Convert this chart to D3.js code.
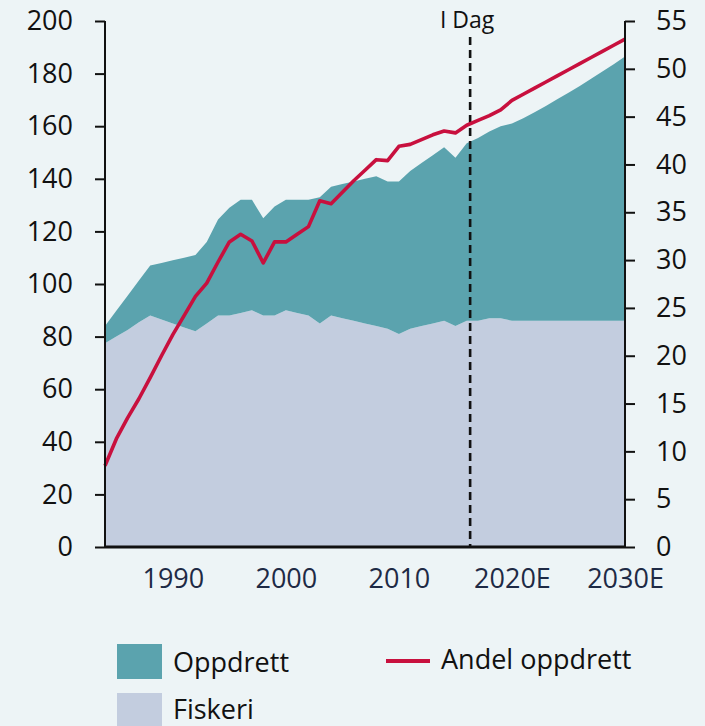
<!DOCTYPE html>
<html>
<head>
<meta charset="utf-8">
<script src="https://cdn.jsdelivr.net/npm/d3@7"></script>
<style>
  html, body { margin: 0; padding: 0; background: #edf4f6; }
  svg { display: block; font-family: "Open Sans", sans-serif; }
</style>
</head>
<body>
<svg id="chart" width="705" height="726"></svg>
<script>
// ---- data ----
const years = d3.range(1984, 2031);
const fiskeri = [77.5, 80, 82.5, 85.5, 88, 86.5, 85, 83.5, 82, 85,
  88, 88, 89, 90, 88, 88, 90, 89, 88, 85,
  88, 87, 86, 85, 84, 83, 81, 83, 84, 85,
  86, 84, 86, 86, 87, 87, 86, 86, 86, 86,
  86, 86, 86, 86, 86, 86, 86];
const oppdrett = [6.5, 9.8, 13, 15.8, 19, 21.5, 24, 26.5, 29, 31,
  36.5, 41, 43, 42, 37, 41.5, 42, 43, 44, 48,
  49, 51, 53, 55, 57, 56, 58, 60, 62, 64,
  66, 64, 67.5, 69.5, 71, 73, 75, 77, 79.3, 81.7,
  84.2, 86.7, 89.3, 92, 94.8, 97.6, 100.5];
const andelOppdrett = [8.5, 11.3, 13.5, 15.5, 17.7, 20, 22.2, 24.2, 26.2, 27.6,
  29.8, 31.9, 32.7, 32, 29.7, 31.9, 31.9, 32.7, 33.5, 36.2,
  35.9, 37.1, 38.3, 39.4, 40.5, 40.4, 41.9, 42.1, 42.6, 43.1,
  43.5, 43.3, 44.1, 44.6, 45.1, 45.7, 46.7, 47.34, 47.98, 48.62,
  49.26, 49.9, 50.54, 51.18, 51.82, 52.46, 53.1];
const xTickYears = [1990, 2000, 2010, 2020, 2030];
const xTickLabels = ["1990", "2000", "2010", "2020E", "2030E"];
const leftTicks = [0, 20, 40, 60, 80, 100, 120, 140, 160, 180, 200];
const rightTicks = [0, 5, 10, 15, 20, 25, 30, 35, 40, 45, 50, 55];
const todayYear = 2016.3;
const todayLabel = "I Dag";
const seriesNames = ["Oppdrett", "Fiskeri", "Andel oppdrett"];

// ---- styles ----
const cTeal = "#5ba3ae", cLight = "#c3cddf", cRed = "#c8103e";

const svg = d3.select("#chart");
const M = { left: 105, right: 625, top: 21, bottom: 547 };

const x = d3.scaleLinear().domain([1984, 2030]).range([M.left, M.right]);
const yL = d3.scaleLinear().domain([0, 200]).range([M.bottom, M.top]);
const yR = d3.scaleLinear().domain([0, 55]).range([M.bottom, M.top]);

const rows = years.map((yr, i) => ({ year: yr, Fiskeri: fiskeri[i], Oppdrett: oppdrett[i], andel: andelOppdrett[i] }));
const stack = d3.stack().keys(["Fiskeri", "Oppdrett"])(rows);
const area = d3.area().x(d => x(d.data.year)).y0(d => yL(d[0])).y1(d => yL(d[1]));
const colorOf = { Fiskeri: cLight, Oppdrett: cTeal };

svg.append("g").selectAll("path").data(stack).join("path")
  .attr("d", area).attr("fill", d => colorOf[d.key]);

// today line
svg.append("line")
  .attr("x1", x(todayYear)).attr("x2", x(todayYear))
  .attr("y1", 37).attr("y2", M.bottom)
  .attr("stroke", "#111").attr("stroke-width", 2.6)
  .attr("stroke-dasharray", "8,5");
svg.append("text").attr("x", x(todayYear) - 3).attr("y", 28)
  .attr("text-anchor", "middle").attr("font-size", 23).attr("fill", "#111")
  .text(todayLabel);

// share line
const line = d3.line().x(d => x(d.year)).y(d => yR(d.andel));
svg.append("path").datum(rows).attr("d", line)
  .attr("fill", "none").attr("stroke", cRed).attr("stroke-width", 3.6)
  .attr("stroke-linejoin", "round");

// left axis
const gL = svg.append("g").attr("transform", `translate(${M.left},0)`)
  .call(d3.axisLeft(yL).tickValues(leftTicks).tickSize(10).tickPadding(10).tickFormat(d3.format("d")));
gL.select(".domain").attr("stroke", "#111").attr("stroke-width", 2).attr("d", `M0,${M.top}V${M.bottom}`);
gL.selectAll(".tick line").attr("stroke", "#111").attr("stroke-width", 2);
gL.selectAll(".tick text").attr("font-size", 27).attr("fill", "#111").attr("font-family", "Open Sans").attr("x", -32);

// right axis
const gR = svg.append("g").attr("transform", `translate(${M.right},0)`)
  .call(d3.axisRight(yR).tickValues(rightTicks).tickSize(10).tickPadding(10).tickFormat(d3.format("d")));
gR.select(".domain").attr("stroke", "#111").attr("stroke-width", 2).attr("d", `M0,${M.top}V${M.bottom}`);
gR.selectAll(".tick line").attr("stroke", "#111").attr("stroke-width", 2);
gR.selectAll(".tick text").attr("font-size", 27).attr("fill", "#111").attr("font-family", "Open Sans").attr("x", 31);

// bottom axis
const gB = svg.append("g").attr("transform", `translate(0,${M.bottom})`)
  .call(d3.axisBottom(x).tickValues(xTickYears).tickSize(0).tickPadding(0)
    .tickFormat((d, i) => xTickLabels[i]));
gB.select(".domain").attr("stroke", "#111").attr("stroke-width", 3).attr("d", `M${M.left},0H${M.right}`);
gB.selectAll(".tick text").attr("font-size", 27).attr("fill", "#1e2a45").attr("font-family", "Open Sans")
  .attr("y", 41).attr("dy", 0);

// legend
const lg = svg.append("g");
lg.append("rect").attr("x", 117).attr("y", 644).attr("width", 45).attr("height", 35).attr("fill", cTeal);
lg.append("text").attr("x", 173).attr("y", 672).attr("font-size", 27).attr("fill", "#111").text(seriesNames[0]);
lg.append("rect").attr("x", 117).attr("y", 693).attr("width", 45).attr("height", 40).attr("fill", cLight);
lg.append("text").attr("x", 173).attr("y", 719).attr("font-size", 27).attr("fill", "#111").text(seriesNames[1]);
lg.append("line").attr("x1", 386).attr("x2", 430).attr("y1", 661).attr("y2", 661)
  .attr("stroke", cRed).attr("stroke-width", 4);
lg.append("text").attr("x", 441).attr("y", 669).attr("font-size", 27).attr("fill", "#111").text(seriesNames[2]);
</script>
</body>
</html>
